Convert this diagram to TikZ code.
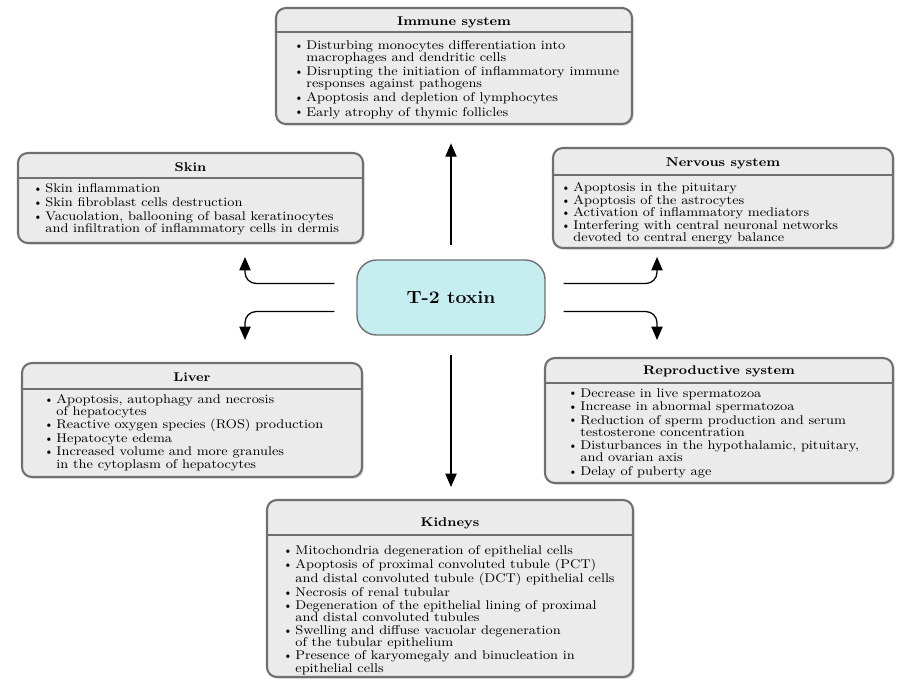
\documentclass[tikz,border=0pt]{standalone}
\usepackage{fontspec}
\setmainfont{Latin Modern Roman}[FakeStretch=1.1]
\usetikzlibrary{arrows.meta,shadows,fit,calc}

\definecolor{boxfill}{HTML}{EBEBEB}
\definecolor{boxline}{HTML}{707070}
\definecolor{toxfill}{HTML}{C6EEF0}

\newcommand{\bul}{\makebox[0.8em][l]{\raisebox{0.2ex}{$\scriptscriptstyle\bullet$}}}
\newcommand{\ind}{\hspace*{0.8em}}

\begin{document}
\begin{tikzpicture}[x=0.025cm,y=-0.025cm,
    panel/.style={draw=boxline,fill=boxfill,line width=1.5pt,rounded corners=7pt,inner sep=0pt,
      drop shadow={shadow xshift=1.2pt,shadow yshift=-1.2pt,opacity=0.3}},
    tox/.style={draw=boxline,fill=toxfill,line width=1pt,rounded corners=14pt,
      minimum width=4.7cm,minimum height=1.875cm,font=\fontsize{12.5}{14}\selectfont\bfseries},
    rule/.style={draw=boxline,line width=0.8pt},
    head/.style={font=\fontsize{9}{9}\selectfont\bfseries,inner sep=0pt},
    body/.style={font=\fontsize{9}{8.6}\selectfont,align=left,anchor=north west,inner sep=0pt},
    arr/.style={-{Triangle[length=9.5pt,width=8pt]},line width=0.9pt}]
\useasboundingbox (0,0) rectangle (898,679);

% organ panels
\node[panel,fit={(276,8) (632,124)}] (immune) {};
\draw[rule] (immune.west |- 0,32) -- (immune.east |- 0,32);
\node[head] (immune-t) at (immune.north |- 0,22) {Immune system};
\node[body] (immune-b) at (296,40) {\bul Disturbing monocytes differentiation into\\
  \ind macrophages and dendritic cells\\[1.5pt]
  \bul Disrupting the initiation of inflammatory immune\\
  \ind responses against pathogens\\[1.5pt]
  \bul Apoptosis and depletion of lymphocytes\\[1.5pt]
  \bul Early atrophy of thymic follicles};

\node[panel,fit={(18,153) (363,243)}] (skin) {};
\draw[rule] (skin.west |- 0,178) -- (skin.east |- 0,178);
\node[head] (skin-t) at (skin.north |- 0,167) {Skin};
\node[body] (skin-b) at (35,183) {\bul Skin inflammation\\[1.5pt]
  \bul Skin fibroblast cells destruction\\[1.5pt]
  \bul Vacuolation, ballooning of basal keratinocytes\\
  \ind and infiltration of inflammatory cells in dermis};

\node[panel,fit={(553,148) (893,248)}] (nervous) {};
\draw[rule] (nervous.west |- 0,175) -- (nervous.east |- 0,175);
\node[head] (nervous-t) at (nervous.north |- 0,163) {Nervous system};
\node[body] (nervous-b) at (563,182) {\bul Apoptosis in the pituitary\\[0.5pt]
  \bul Apoptosis of the astrocytes\\[0.5pt]
  \bul Activation of inflammatory mediators\\[0.5pt]
  \bul Interfering with central neuronal networks\\
  \ind devoted to central energy balance};

\node[panel,fit={(22,363) (362,477)}] (liver) {};
\draw[rule] (liver.west |- 0,389) -- (liver.east |- 0,389);
\node[head] (liver-t) at (liver.north |- 0,377) {Liver};
\node[body] (liver-b) at (46,394) {\bul Apoptosis, autophagy and necrosis\\
  \ind of hepatocytes\\[1pt]
  \bul Reactive oxygen species (ROS) production\\[1pt]
  \bul Hepatocyte edema\\[1pt]
  \bul Increased volume and more granules\\
  \ind in the cytoplasm of hepatocytes};

\node[panel,fit={(545,358) (893,483)}] (repro) {};
\draw[rule] (repro.west |- 0,383) -- (repro.east |- 0,383);
\node[head] (repro-t) at (repro.north |- 0,371) {Reproductive system};
\node[body] (repro-b) at (570,388) {\bul Decrease in live spermatozoa\\[1pt]
  \bul Increase in abnormal spermatozoa\\[1pt]
  \bul Reduction of sperm production and serum\\
  \ind testosterone concentration\\[1pt]
  \bul Disturbances in the hypothalamic, pituitary,\\
  \ind and ovarian axis\\[1pt]
  \bul Delay of puberty age};

\node[panel,fit={(267,500) (633,677)}] (kidneys) {};
\draw[rule] (kidneys.west |- 0,535) -- (kidneys.east |- 0,535);
\node[head] (kidneys-t) at (kidneys.north |- 0,523) {Kidneys};
\node[body] (kidneys-b) at (285,545) {\bul Mitochondria degeneration of epithelial cells\\[0.8pt]
  \bul Apoptosis of proximal convoluted tubule (PCT)\\
  \ind and distal convoluted tubule (DCT) epithelial cells\\[0.8pt]
  \bul Necrosis of renal tubular\\[0.8pt]
  \bul Degeneration of the epithelial lining of proximal\\
  \ind and distal convoluted tubules\\[0.8pt]
  \bul Swelling and diffuse vacuolar degeneration\\
  \ind of the tubular epithelium\\[0.8pt]
  \bul Presence of karyomegaly and binucleation in\\
  \ind epithelial cells};

% centre
\node[tox] (t2) at (451,297.5) {T-2 toxin};

% arrows
\draw[arr,shorten <=10pt,shorten >=13pt] (t2.north) -- (t2.north |- immune.south);
\draw[arr,shorten <=14pt,shorten >=8.5pt] (t2.south) -- (t2.south |- kidneys.north);
\coordinate (l1) at ($(t2.west)+(-22,-14)$);
\coordinate (l2) at ($(t2.west)+(-22,14)$);
\coordinate (r1) at ($(t2.east)+(18,-14)$);
\coordinate (r2) at ($(t2.east)+(18,14)$);
\coordinate (skin-e) at (245,257);
\coordinate (liver-e) at (245,340);
\coordinate (nervous-e) at (657,257);
\coordinate (repro-e) at (657,340);
\draw[arr,rounded corners=8pt] (l1) -| (skin-e);
\draw[arr,rounded corners=8pt] (l2) -| (liver-e);
\draw[arr,rounded corners=8pt] (r1) -| (nervous-e);
\draw[arr,rounded corners=8pt] (r2) -| (repro-e);
\end{tikzpicture}
\end{document}
